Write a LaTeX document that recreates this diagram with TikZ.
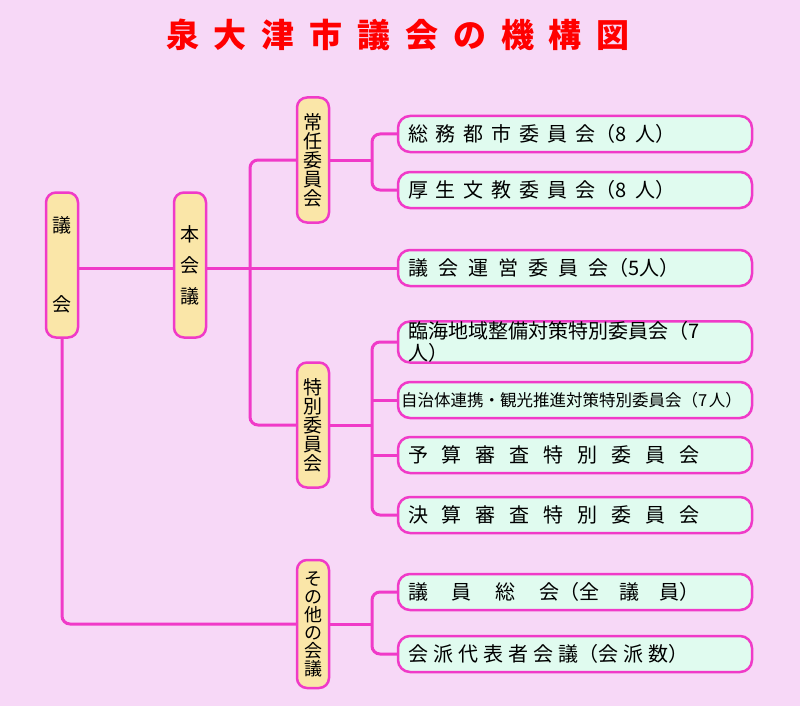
\documentclass[tikz,border=0pt]{standalone}
\usepackage{fontspec}
\setmainfont{Noto Sans CJK JP}
\begin{document}
\begin{tikzpicture}[x=1pt,y=-1pt,
 ln/.style={draw=lc,line width=3pt,rounded corners=8pt},
 yb/.style={draw=lc,line width=2.5pt,fill=yf,rounded corners=10pt,minimum width=32pt,inner sep=0pt,font=\fontsize{19}{23}\selectfont,align=center},
 cb/.style={draw=lc,line width=2.5pt,fill=cf,rounded corners=12pt,minimum width=354pt,minimum height=36pt,inner sep=0pt,text width=334pt,align=left,font=\fontsize{20}{22}\selectfont}]
\definecolor{bg}{HTML}{F7D8F7}
\definecolor{lc}{HTML}{F03AC8}
\definecolor{yf}{HTML}{FAE6A8}
\definecolor{cf}{HTML}{E0FBEF}
\fill[bg] (0,0) rectangle (800,706);
\useasboundingbox (0,0) rectangle (800,706);
\node[text=red,font=\fontsize{33}{36}\bfseries\selectfont] (title) at (398,35) {泉\hspace{.45em}大\hspace{.45em}津\hspace{.45em}市\hspace{.45em}議\hspace{.45em}会\hspace{.45em}の\hspace{.45em}機\hspace{.45em}構\hspace{.45em}図};
\node[yb,minimum height=145pt] (gikai) at (62,265) {議\\[56pt]会};
\node[yb,minimum height=145pt] (hon) at (190,265) {本\\[8pt]会\\[8pt]議};
\node[yb,minimum height=125pt] (jonin) at (313,160) {常\\[-4pt]任\\[-4pt]委\\[-4pt]員\\[-4pt]会};
\node[yb,minimum height=125pt] (tokubetsu) at (313,425) {特\\[-4pt]別\\[-4pt]委\\[-4pt]員\\[-4pt]会};
\node[yb,minimum height=128pt,font=\fontsize{18}{19}\selectfont] (sonota) at (313,624) {そ\\[-1pt]の\\[-1pt]他\\[-1pt]の\\[-1pt]会\\[-1pt]議};
\node[cb] (c1) at (575,134) {総\hspace{.4em}務\hspace{.4em}都\hspace{.4em}市\hspace{.4em}委\hspace{.4em}員\hspace{.4em}会（8\hspace{.4em}人）};
\node[cb] (c2) at (575,190) {厚\hspace{.4em}生\hspace{.4em}文\hspace{.4em}教\hspace{.4em}委\hspace{.4em}員\hspace{.4em}会（8\hspace{.4em}人）};
\node[cb] (c3) at (575,268) {議\hspace{.5em}会\hspace{.5em}運\hspace{.5em}営\hspace{.5em}委\hspace{.5em}員\hspace{.5em}会（5人）};
\node[cb] (c4) at (575,342) {臨海地域整備対策特別委員会（7\hspace{.2em}人）};
\node[cb,text width=348pt,font=\fontsize{16.5}{19}\selectfont] (c5) at (575,400) {\mbox{自治体連携・観光推進対策特別委員会（7\hspace{.1em}人）}};
\node[cb] (c6) at (575,455) {予\hspace{.7em}算\hspace{.7em}審\hspace{.7em}査\hspace{.7em}特\hspace{.7em}別\hspace{.7em}委\hspace{.7em}員\hspace{.7em}会};
\node[cb] (c7) at (575,515) {決\hspace{.7em}算\hspace{.7em}審\hspace{.7em}査\hspace{.7em}特\hspace{.7em}別\hspace{.7em}委\hspace{.7em}員\hspace{.7em}会};
\node[cb] (c8) at (575,592) {議\hspace{1.2em}員\hspace{1.2em}総\hspace{1.2em}会（全\hspace{1em}議\hspace{1em}員）};
\node[cb] (c9) at (575,654) {会\hspace{.25em}派\hspace{.25em}代\hspace{.25em}表\hspace{.25em}者\hspace{.25em}会\hspace{.25em}議（会\hspace{.25em}派\hspace{.25em}数）};
\draw[ln] (gikai.east |- 0,268) -- (hon.west |- 0,268);
\draw[ln] (hon.east |- 0,268) -- (c3.west);
\draw[ln] (jonin.west) -| (250,268) |- (tokubetsu.west);
\draw[ln] (gikai.south) |- (sonota.west);
\draw[ln] (jonin.east) -- (372,160);
\draw[ln] (c1.west) -| (372,160) |- (c2.west);
\draw[ln] (tokubetsu.east) -- (372,425);
\draw[ln] (c4.west) -| (372,425) |- (c7.west);
\draw[ln] (372,400) -- (c5.west);
\draw[ln] (372,455) -- (c6.west);
\draw[ln] (sonota.east) -- (372,624);
\draw[ln] (c8.west) -| (372,624) |- (c9.west);
\end{tikzpicture}
\end{document}
